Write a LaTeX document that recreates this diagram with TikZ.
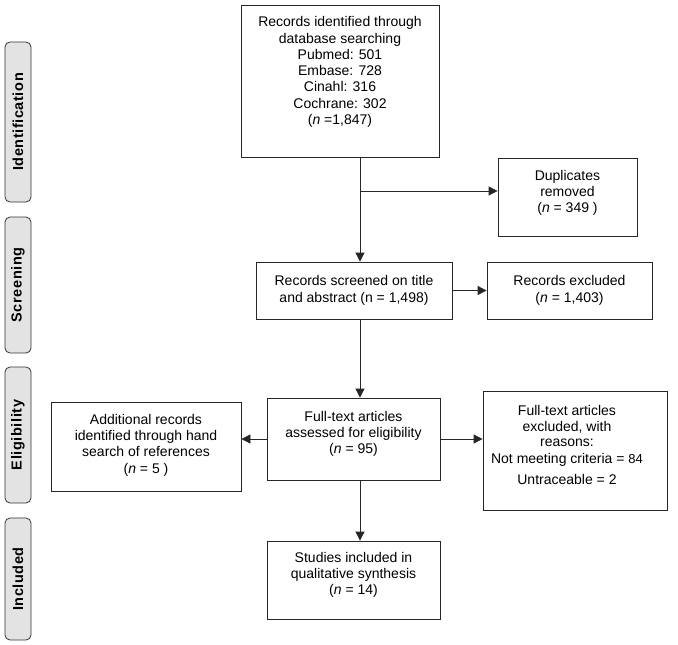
\documentclass[tikz,border=0pt]{standalone}
\usepackage{fontspec}
\setmainfont{Liberation Sans}
\newfontfamily\sidefont[LetterSpace=4]{Liberation Sans}
\usetikzlibrary{arrows.meta}
\begin{document}
\begin{tikzpicture}[x=1pt,y=-1pt,
  box/.style={draw=black!85,line width=0.8pt,fill=white,align=center,inner sep=2pt,
    font=\fontsize{14}{16.3}\selectfont},
  txt/.style={align=center,font=\fontsize{14}{16.3}\selectfont},
  side/.style={draw=black!80,line width=0.8pt,fill=black!11,rounded corners=5pt,
    minimum width=26pt,inner sep=0pt},
  sidetext/.style={rotate=90,font=\sidefont\fontsize{14.5}{16}\selectfont\bfseries},
  arr/.style={line width=0.8pt,draw=black!85,-{Triangle[length=9pt,width=9pt]}},
  ln/.style={line width=0.8pt,draw=black!85}]
\useasboundingbox (0,0) rectangle (678,645);
% side labels
\node[side,minimum height=160pt] (sid) at (18,122) {};
\node[sidetext] (sidt) at (sid.center) {Identification};
\node[side,minimum height=136pt] (ssc) at (18,285) {};
\node[sidetext] (ssct) at (ssc.center) {Screening};
\node[side,minimum height=136pt] (sel) at (18,435) {};
\node[sidetext] (selt) at (sel.center) {Eligibility};
\node[side,minimum height=122pt] (sin) at (18,579) {};
\node[sidetext] (sint) at (sin.center) {Included};
% boxes
\node[box,minimum width=198pt,minimum height=152pt] (top) at (340,81) {};
\node[txt] (topt) at (340,72)
 {Records identified through\\database searching\\Pubmed: 501\\Embase: 728\\Cinahl: 316\\Cochrane: 302\\(\textit{n} =1,847)};
\node[box,minimum width=139pt,minimum height=78pt] (dup) at (567.5,197) {};
\node[txt] (dupt) at (567.5,193)
 {Duplicates\\removed\\(\textit{n} = 349 )};
\node[box,minimum width=196pt,minimum height=57pt] (scr) at (354,290.5)
 {Records screened on title\\and abstract (n = 1,498)};
\node[box,minimum width=165pt,minimum height=57pt] (rex) at (569.5,290.5)
 {Records excluded\\(\textit{n} = 1,403)};
\node[box,minimum width=173pt,minimum height=82pt] (ft) at (353.5,439) {};
\node[txt] (ftt) at (353.5,434)
 {Full-text articles\\assessed for eligibility\\(\textit{n} = 95)};
\node[box,minimum width=190pt,minimum height=89pt] (add) at (146,446.5) {};
\node[txt] (addt) at (146,445)
 {Additional records\\identified through hand\\search of references\\(\textit{n} = 5 )};
\node[box,minimum width=184pt,minimum height=119pt] (exc) at (575,450.5) {};
\node[align=center,font=\fontsize{14}{15.5}\selectfont] (exct) at (567,445)
 {Full-text articles\\excluded, with\\reasons:\\[1pt]Not meeting criteria = {\fontsize{13}{15}\selectfont 84}\\[6pt]Untraceable = 2};
\node[box,minimum width=173pt,minimum height=78pt] (stu) at (353.5,580) {};
\node[txt] (stut) at (353.5,575)
 {Studies included in\\qualitative synthesis\\(\textit{n} = 14)};
% connectors
\coordinate (vx) at (360,0);
\coordinate (br) at (360,191);
\draw[ln] (top.south -| vx) -- (br);
\draw[arr] (br) -- (br -| dup.west);
\draw[arr] (br) -- (scr.north -| vx);
\draw[arr] (scr.east) -- (rex.west);
\draw[arr] (scr.south -| vx) -- (ft.north -| vx);
\draw[arr] (ft.west) -- (ft.west -| add.east);
\draw[arr] (ft.east) -- (ft.east -| exc.west);
\draw[arr] (ft.south -| vx) -- (stu.north -| vx);
\end{tikzpicture}
\end{document}
